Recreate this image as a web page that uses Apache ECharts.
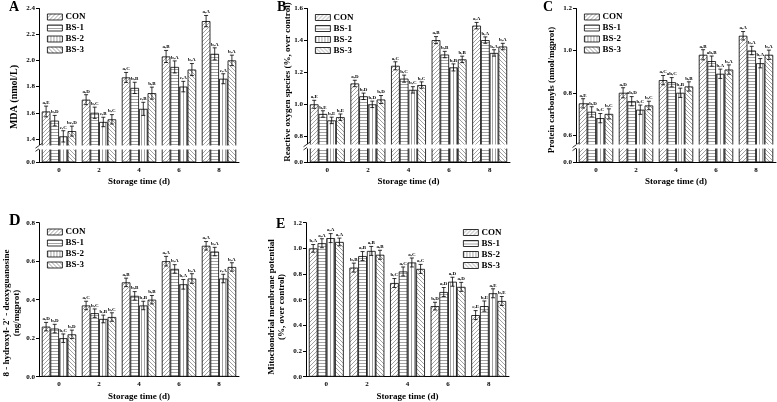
<!DOCTYPE html>
<html><head><meta charset="utf-8">
<script src="https://cdn.jsdelivr.net/npm/echarts@6/dist/echarts.min.js"></script>
<style>html,body{margin:0;padding:0;background:#fff}#c{width:777px;height:402px}</style>
</head><body><div id="c"></div>
<script>
const categories = ['0', '2', '4', '6', '8'];
const seriesNames = ['CON', 'BS-1', 'BS-2', 'BS-3'];

// Panel A: MDA (nmol/L) — rows: CON, BS-1, BS-2, BS-3
const mdaValues = [
  [1.61, 1.70, 1.87, 2.03, 2.30],
  [1.54, 1.60, 1.79, 1.95, 2.05],
  [1.42, 1.53, 1.63, 1.80, 1.86],
  [1.46, 1.55, 1.75, 1.93, 2.00]
];
const mdaErrors = [
  [0.041, 0.038, 0.038, 0.046, 0.043],
  [0.040, 0.043, 0.043, 0.046, 0.046],
  [0.043, 0.036, 0.050, 0.040, 0.038],
  [0.038, 0.036, 0.046, 0.046, 0.040]
];
const mdaLetters = [
  ['a,E', 'a,D', 'a,C', 'a,B', 'a,A'],
  ['b,D', 'b,C', 'b,B', 'b,A', 'b,A'],
  ['c,C', 'c,B', 'c,B', 'c,A', 'c,A'],
  ['bc,D', 'b,C', 'b,B', 'b,A', 'b,A']
];
const mdaTicks = [0, 1.4, 1.6, 1.8, 2.0, 2.2, 2.4];

// Panel B: ROS
const rosValues = [
  [1.00, 1.13, 1.24, 1.40, 1.49],
  [0.94, 1.05, 1.16, 1.31, 1.40],
  [0.90, 1.00, 1.09, 1.23, 1.32],
  [0.92, 1.03, 1.12, 1.28, 1.36]
];
const rosErrors = [
  [0.025, 0.020, 0.025, 0.022, 0.020],
  [0.020, 0.020, 0.022, 0.020, 0.020],
  [0.020, 0.020, 0.020, 0.022, 0.020],
  [0.020, 0.025, 0.020, 0.020, 0.020]
];
const rosLetters = [
  ['a,E', 'a,D', 'a,C', 'a,B', 'a,A'],
  ['b,E', 'b,D', 'b,C', 'b,B', 'b,A'],
  ['b,E', 'b,D', 'b,C', 'b,B', 'b,A'],
  ['b,E', 'b,D', 'b,C', 'b,B', 'b,A']
];
const rosTicks = [0, 0.8, 1.0, 1.2, 1.4, 1.6];

// Panel C: Protein carbonyls
const pcValues = [
  [0.75, 0.80, 0.86, 0.98, 1.07],
  [0.71, 0.76, 0.85, 0.95, 1.00],
  [0.68, 0.72, 0.80, 0.89, 0.94],
  [0.70, 0.74, 0.83, 0.91, 0.98]
];
const pcErrors = [
  [0.022, 0.024, 0.022, 0.024, 0.020],
  [0.024, 0.022, 0.022, 0.024, 0.020],
  [0.022, 0.022, 0.022, 0.022, 0.022],
  [0.024, 0.020, 0.022, 0.022, 0.022]
];
const pcLetters = [
  ['a,E', 'a,D', 'a,C', 'a,B', 'a,A'],
  ['ab,D', 'ab,D', 'ab,C', 'ab,B', 'b,A'],
  ['b,C', 'b,C', 'b,B', 'b,A', 'b,A'],
  ['b,C', 'b,C', 'b,B', 'b,A', 'b,A']
];
const pcTicks = [0, 0.6, 0.8, 1.0, 1.2];

// Panel D: 8-OHdG
const ohdgValues = [
  [0.26, 0.37, 0.49, 0.60, 0.68],
  [0.25, 0.33, 0.42, 0.56, 0.65],
  [0.20, 0.30, 0.37, 0.48, 0.51],
  [0.22, 0.31, 0.40, 0.51, 0.57]
];
const ohdgErrors = [
  [0.022, 0.022, 0.022, 0.025, 0.022],
  [0.022, 0.022, 0.022, 0.022, 0.022],
  [0.022, 0.020, 0.022, 0.025, 0.022],
  [0.022, 0.022, 0.022, 0.025, 0.022]
];
const ohdgLetters = [
  ['a,D', 'a,C', 'a,B', 'a,A', 'a,A'],
  ['b,D', 'b,C', 'b,B', 'b,A', 'b,A'],
  ['b,C', 'b,B', 'b,B', 'b,A', 'c,A'],
  ['b,D', 'b,C', 'b,B', 'b,A', 'b,A']
];
const ohdgTicks = [0, 0.2, 0.4, 0.6, 0.8];

// Panel E: Mitochondrial membrane potential
const mmpValues = [
  [1.00, 0.85, 0.73, 0.55, 0.48],
  [1.04, 0.94, 0.82, 0.66, 0.55],
  [1.08, 0.98, 0.89, 0.74, 0.65],
  [1.05, 0.95, 0.84, 0.70, 0.59]
];
const mmpErrors = [
  [0.030, 0.035, 0.035, 0.030, 0.035],
  [0.035, 0.035, 0.035, 0.035, 0.040],
  [0.035, 0.035, 0.035, 0.035, 0.035],
  [0.030, 0.035, 0.035, 0.035, 0.035]
];
const mmpLetters = [
  ['b,A', 'b,B', 'b,C', 'b,D', 'c,E'],
  ['a,A', 'a,B', 'a,C', 'a,D', 'b,E'],
  ['a,A', 'a,B', 'a,C', 'a,D', 'a,E'],
  ['a,A', 'a,B', 'a,C', 'a,D', 'b,E']
];
const mmpTicks = [0, 0.2, 0.4, 0.6, 0.8, 1.0, 1.2];

const FONT = '"Liberation Serif","Times New Roman",serif';
const GAP = 0.14;

function makePattern(kind) {
  const s = kind === 'h' || kind === 'v' ? 3 : 4;
  const c = document.createElement('canvas');
  c.width = s; c.height = s;
  const g = c.getContext('2d');
  g.fillStyle = '#fff'; g.fillRect(0, 0, s, s);
  g.strokeStyle = '#8c8c8c'; g.lineWidth = 0.8;
  g.beginPath();
  if (kind === 'f') {
    g.moveTo(0, s); g.lineTo(s, 0);
    g.moveTo(-1, 1); g.lineTo(1, -1);
    g.moveTo(s - 1, s + 1); g.lineTo(s + 1, s - 1);
  } else if (kind === 'b') {
    g.moveTo(0, 0); g.lineTo(s, s);
    g.moveTo(-1, s - 1); g.lineTo(1, s + 1);
    g.moveTo(s - 1, -1); g.lineTo(s + 1, 1);
  } else if (kind === 'h') {
    g.moveTo(0, 0.5); g.lineTo(s, 0.5);
  } else {
    g.moveTo(0.5, 0); g.lineTo(0.5, s);
  }
  g.stroke();
  return { image: c, repeat: 'repeat' };
}
const patterns = [makePattern('f'), makePattern('h'), makePattern('v'), makePattern('b')];

const panels = [
  { values: mdaValues, errors: mdaErrors, letters: mdaLetters, ticks: mdaTicks, grid: { left: 39, top: 8, width: 200, height: 154.3 }, max: 2.4, brk: { start: 0.1, end: 1.352, gap: 0.03 } },
  { values: rosValues, errors: rosErrors, letters: rosLetters, ticks: rosTicks, grid: { left: 307, top: 8, width: 203, height: 154.3 }, max: 1.6, brk: { start: 0.09, end: 0.754, gap: 0.025 } },
  { values: pcValues, errors: pcErrors, letters: pcLetters, ticks: pcTicks, grid: { left: 576, top: 8.3, width: 200, height: 154 }, max: 1.2, brk: { start: 0.065, end: 0.555, gap: 0.019 } },
  { values: ohdgValues, errors: ohdgErrors, letters: ohdgLetters, ticks: ohdgTicks, grid: { left: 39, top: 222.7, width: 200, height: 154 }, max: 0.8, brk: null },
  { values: mmpValues, errors: mmpErrors, letters: mmpLetters, ticks: mmpTicks, grid: { left: 306, top: 222.7, width: 203, height: 154 }, max: 1.2, brk: null }
];

const grids = [], xAxes = [], yAxes = [], series = [];
panels.forEach((p, idx) => {
  grids.push(Object.assign({ containLabel: false }, p.grid));
  xAxes.push({
    type: 'category', gridIndex: idx, data: categories,
    name: 'Storage time (d)', nameLocation: 'middle', nameGap: 15,
    nameTextStyle: { fontFamily: FONT, fontWeight: 'bold', fontSize: 9, color: '#000' },
    axisLine: { lineStyle: { color: '#000', width: 1 } },
    axisTick: { alignWithLabel: true, length: 3, lineStyle: { color: '#000' } },
    axisLabel: { fontFamily: FONT, fontWeight: 'bold', fontSize: 7, color: '#000', margin: 4 },
    splitLine: { show: false }
  });
  const y = {
    type: 'value', gridIndex: idx, min: 0, max: p.max, interval: 0.2,
    axisLine: { show: true, lineStyle: { color: '#000', width: 1 } },
    axisTick: { show: true, length: 3, lineStyle: { color: '#000' }, customValues: p.ticks },
    axisLabel: {
      fontFamily: FONT, fontWeight: 'bold', fontSize: 7, color: '#000', margin: 4,
      customValues: p.ticks, showMinLabel: true, showMaxLabel: true, hideOverlap: false,
      formatter: v => Number(v).toFixed(1)
    },
    splitLine: { show: false }
  };
  if (p.brk) {
    y.breaks = [p.brk];
    y.breakArea = {
      show: true,
      itemStyle: { color: '#fff', borderColor: '#fff', borderWidth: 0, opacity: 1 },
      zigzagAmplitude: 0
    };
  }
  yAxes.push(y);
  for (let k = 0; k < 4; k++) {
    series.push({
      type: 'bar', name: seriesNames[k], xAxisIndex: idx, yAxisIndex: idx,
      data: p.values[k], barGap: '0%', barCategoryGap: (GAP * 100) + '%',
      itemStyle: { color: patterns[k], borderColor: '#000', borderWidth: 0.8 },
      emphasis: { disabled: true }, z: 2
    });
  }
  const cdata = [], clabels = [];
  for (let k = 0; k < 4; k++) {
    for (let i = 0; i < categories.length; i++) {
      cdata.push([i, p.values[k][i], p.errors[k][i], k]);
      clabels.push(p.letters[k][i]);
    }
  }
  series.push({
    type: 'custom', xAxisIndex: idx, yAxisIndex: idx, z: 5, silent: true,
    encode: { x: 0, y: 1 }, data: cdata,
    renderItem: function (params, api) {
      const i = api.value(0), v = api.value(1), e = api.value(2), k = api.value(3);
      const band = api.size([1, 0])[0];
      const bw = band * (1 - GAP) / 4;
      const x = api.coord([i, v])[0] + (k - 1.5) * bw;
      const yt = api.coord([i, v + e])[1];
      const yb = api.coord([i, v - e])[1];
      const cap = 2;
      const st = { stroke: '#000', lineWidth: 0.8 };
      return {
        type: 'group', children: [
          { type: 'line', shape: { x1: x, y1: yt, x2: x, y2: yb }, style: st },
          { type: 'line', shape: { x1: x - cap, y1: yt, x2: x + cap, y2: yt }, style: st },
          { type: 'line', shape: { x1: x - cap, y1: yb, x2: x + cap, y2: yb }, style: st },
          { type: 'text', x: x, y: yt - 1, style: { text: clabels[params.dataIndex], fill: '#000', font: 'bold 5px ' + FONT, align: 'center', verticalAlign: 'bottom' } }
        ]
      };
    }
  });
});

const legendBase = {
  orient: 'vertical', icon: 'rect', itemWidth: 15, itemHeight: 6, itemGap: 2,
  selectedMode: false, data: seriesNames, padding: 0,
  itemStyle: { borderWidth: 0.8, borderColor: '#000' },
  textStyle: { fontFamily: FONT, fontWeight: 'bold', fontSize: 9, color: '#000', padding: [0, 0, 0, -2], lineHeight: 9 }
};
const legends = [
  Object.assign({}, legendBase, { left: 47, top: 12.5 }),
  Object.assign({}, legendBase, { left: 315, top: 13 }),
  Object.assign({}, legendBase, { left: 584, top: 12.5 }),
  Object.assign({}, legendBase, { left: 47, top: 227.5 }),
  Object.assign({}, legendBase, { left: 463, top: 228 })
];

function ttl(text, x, y, size) {
  return { type: 'text', x: x, y: y, rotation: Math.PI / 2, style: { text: text, font: 'bold ' + size + 'px ' + FONT, fill: '#000', align: 'center', verticalAlign: 'middle', lineHeight: 10 } };
}
function letter(text, x, y, size) {
  return { type: 'text', left: x, top: y, style: { text: text, font: 'bold ' + size + 'px ' + FONT, fill: '#000' } };
}

const chart = echarts.init(document.getElementById('c'), null, { renderer: 'canvas' });
const graphics = [
  letter('A', 9, 0, 14), letter('B', 277, 0, 14), letter('C', 543, 0, 14),
  letter('D', 9, 213, 16), letter('E', 276, 217, 14),
  ttl('MDA (nmol/L)', 14.5, 97, 10),
  ttl('Reactive oxygen species (%, over control)', 288, 82, 9),
  ttl('Protein carbonyls (nmol/mgprot)', 552, 90, 9),
  ttl('8 - hydroxyl- 2\' - deoxyguanosine\n(ng/mgprot)', 11.5, 313, 9),
  ttl('Mitochondrial membrane potential\n(%, over control)', 276.5, 307, 9)
];
chart.setOption({
  animation: false,
  backgroundColor: '#fff',
  grid: grids, xAxis: xAxes, yAxis: yAxes, series: series, legend: legends,
  graphic: graphics
});

// axis-break "//" marks, placed from the axis scale
const breakMarks = [];
panels.forEach((p, idx) => {
  if (!p.brk) return;
  const y1 = chart.convertToPixel({ yAxisIndex: idx }, p.brk.start);
  const y2 = chart.convertToPixel({ yAxisIndex: idx }, p.brk.end);
  const ym = (y1 + y2) / 2;
  const x = p.grid.left;
  [-1.6, 1.6].forEach(d => {
    breakMarks.push({ type: 'line', z: 100, shape: { x1: x - 3.5, y1: ym + d + 2.5, x2: x + 3.5, y2: ym + d - 2.5 }, style: { stroke: '#000', lineWidth: 0.8 } });
  });
  breakMarks.push({ type: 'rect', z: 99, shape: { x: x - 1.5, y: ym - 1.2, width: 3, height: 2.4 }, style: { fill: '#fff' } });
});
chart.setOption({ graphic: graphics.concat(breakMarks) });
</script>
</body></html>
